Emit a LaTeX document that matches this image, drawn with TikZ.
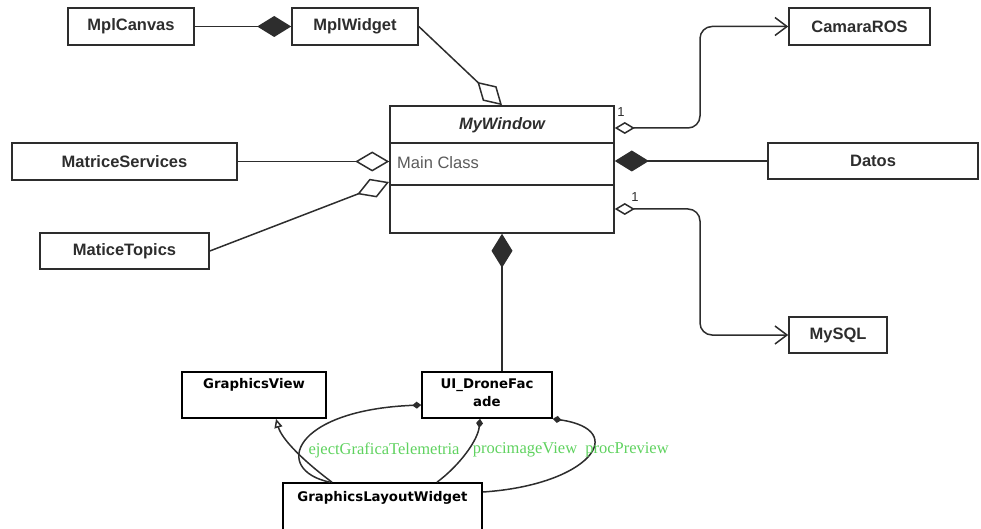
\documentclass[tikz,border=0pt]{standalone}
\usepackage{fontspec}
\setmainfont{Liberation Sans}
\newfontfamily\facadefont{DejaVu Sans}
\newfontfamily\rolefont{Liberation Serif}
\usetikzlibrary{arrows.meta,positioning,calc}
\definecolor{c0}{RGB}{45,45,45}
\definecolor{c1}{RGB}{90,90,90}
\definecolor{c2}{RGB}{95,210,95}
\tikzset{%
  cls/.style={draw=c0,line width=1.6pt,inner sep=0pt,minimum height=37pt,minimum width=#1,
    text=c0,font=\fontsize{16.5}{18}\selectfont\bfseries},
  cls/.default=126pt,
  qbox/.style={draw=black,line width=1.6pt,inner sep=0pt,minimum height=46pt,minimum width=#1},
  qtext/.style={inner sep=0pt,align=center,font=\facadefont\fontsize{13.3}{18}\selectfont\bfseries},
  role/.style={inner sep=0pt,text=c2,font=\rolefont\fontsize{16.5}{18}\selectfont},
  mult/.style={inner sep=0pt,text=c0,font=\fontsize{13}{15}\selectfont},
  link/.style={draw=c0,line width=1.5pt},
  aggr/.style={link,{Diamond[open,length=34pt,width=20pt]}-},
  comp/.style={link,{Diamond[length=34pt,width=21pt]}-},
  aggrsm/.style={link,rounded corners=12pt,{Diamond[open,length=20pt,width=12pt]}-{Straight Barb[length=12pt,width=18pt]}},
  dcomp/.style={link,-{Diamond[length=9pt,width=7pt]}},
  gen/.style={link,-{Triangle[open,length=9pt,width=8pt]}}
}

\begin{document}
\begin{tikzpicture}[x=1pt,y=-1pt]
  \useasboundingbox (0,0) rectangle (981,529);
  % Classes
  \node[cls] (canvas) at (131,26.5) {MplCanvas};
  \node[cls] (widget) at (355,26.5) {MplWidget};
  \node[cls=141pt] (camara) at (859.5,26.5) {CamaraROS};
  \node[cls=225pt] (services) at (124.5,161.5) {MatriceServices};
  \node[cls=169pt,minimum height=36pt] (topics) at (124.5,251) {MaticeTopics};
  \node[cls=210pt,minimum height=36pt] (datos) at (873,161) {Datos};
  \node[cls=98pt,minimum height=36pt] (mysql) at (838,335) {MySQL};
  % Main window
  \node[cls=224pt,minimum height=127pt] (mywin) at (502,169.5) {};
  \draw[link] (mywin.west |- 0,143) -- (mywin.east |- 0,143);
  \draw[link] (mywin.west |- 0,185) -- (mywin.east |- 0,185);
  \node[inner sep=0pt,text=c0,font=\fontsize{16.5}{18}\selectfont\bfseries\itshape] (mywintitle) at (502,125) {MyWindow};
  \node[anchor=west,inner sep=0pt,text=c1,font=\fontsize{16.5}{18}\selectfont] (mainclass) at (397,163) {Main Class};
  % Qt side
  \node[qbox=144pt] (gview) at (254,395) {};
  \node[qtext,below=7pt of gview.north] (gviewtext) {GraphicsView};
  \node[qbox=130pt] (facade) at (487,395) {};
  \node[qtext,below=7pt of facade.north] (facadetext) {UI\_DroneFac\\ade};
  \node[qbox=199pt,minimum height=62pt] (glw) at (382.5,514) {};
  \node[qtext,below=9pt of glw.north] (glwtext) {GraphicsLayoutWidget};
  % Connectors
  \coordinate (topicsend) at (389,182);
  \draw[comp] (widget.west) -- (canvas.east);
  \draw[aggr] (mywin.north) -- (widget.east);
  \draw[aggr] (mywin.west |- services.east) -- (services.east);
  \draw[aggr] (topicsend) -- (topics.east);
  \draw[comp] (mywin.east |- datos.west) -- (datos.west);
  \draw[aggrsm] (mywin.east |- 0,128) -- (700,128) |- (camara.west);
  \draw[aggrsm] (mywin.east |- 0,209) -- (700,209) |- (mysql.west);
  \node[mult] (multcam) at (621,112) {1};
  \node[mult] (multsql) at (635,197) {1};
  \draw[comp] (mywin.south) -- (mywin.south |- facade.north);
  % Bottom links
  \draw[gen] (glw.north -| 332,0) .. controls (305,462) and (282,440) .. (gview.south -| 276,0);
  \draw[dcomp] (glw.north -| 330,0) .. controls (272,470) and (292,410) .. (facade.west |- 0,405);
  \draw[dcomp] (glw.north -| 437,0) .. controls (460,465) and (478,440) .. (facade.south -| 480,0);
  \draw[dcomp] (glw.east |- 0,492) .. controls (590,485) and (630,430) .. (facade.south east);
  \node[role] (ejectlbl) at (384,450) {ejectGraficaTelemetria};
  \node[role] (imagelbl) at (525,450) {procimageView};
  \node[role] (previewlbl) at (627,450) {procPreview};
\end{tikzpicture}
\end{document}
